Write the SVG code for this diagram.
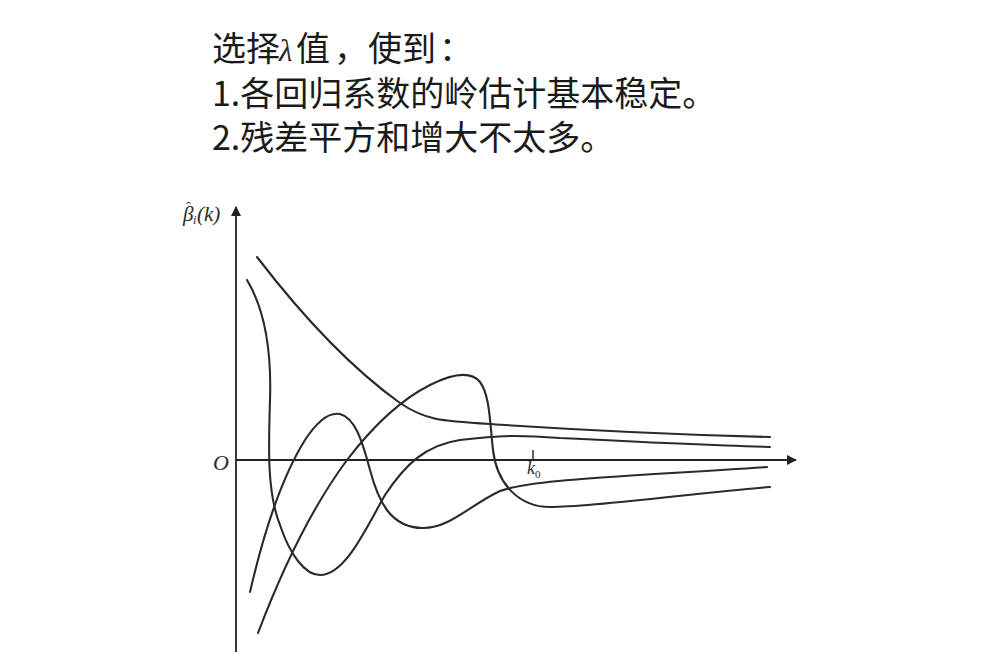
<svg xmlns="http://www.w3.org/2000/svg" width="994" height="664" viewBox="0 0 994 664">
<style>
.title{font-family:"Noto Sans CJK SC","Noto Sans",sans-serif;font-size:34px;fill:#1a1a1a}
.math{font-family:"Liberation Serif","DejaVu Serif",serif;font-style:italic;fill:#2a2a2a}
.axis{stroke:#222;stroke-width:1.8;fill:none}
.curve{stroke:#2a2a2a;stroke-width:2.1;fill:none;stroke-linecap:round;stroke-linejoin:round}
</style>
<defs>
<marker id="arr" viewBox="0 0 10 10" refX="9" refY="5" markerWidth="10" markerHeight="10" markerUnits="userSpaceOnUse" orient="auto">
<path d="M0,0 L10,5 L0,10 Z" fill="#222"/>
</marker>
</defs>
<rect width="994" height="664" fill="#ffffff"/>
<g id="title">
<text class="title" x="212" y="61">选择<tspan x="279" class="math" style="font-size:31px">λ</tspan><tspan x="296">值</tspan><tspan x="334">，</tspan><tspan x="368">使到</tspan><tspan x="439">：</tspan><tspan x="212" y="106">1.各回归系数的岭估计基本稳定。</tspan><tspan x="212" y="150">2.残差平方和增大不太多。</tspan></text>
</g>
<g id="axes">
<line class="axis" x1="236" y1="652" x2="236" y2="207" marker-end="url(#arr)"/>
<line class="axis" x1="236" y1="460" x2="796" y2="460" marker-end="url(#arr)"/>
<line class="axis" x1="533" y1="450" x2="533" y2="460" style="stroke-width:1.4"/>
</g>
<g id="labels">
<text class="math" x="221" y="470" text-anchor="middle" style="font-size:22px">O</text>
<text class="math" x="183" y="221" style="font-size:21px">β<tspan x="186" y="212" style="font-size:14px;font-style:normal">ˆ</tspan><tspan x="193" y="224" style="font-size:12px">i</tspan><tspan x="197" y="221">(k)</tspan></text>
<text class="math" x="527" y="474" style="font-size:18px">k<tspan dy="4" style="font-size:11px;font-style:normal">0</tspan></text>
</g>
<g id="connectors">
<path id="curveA" class="curve" d="M257,257 C290,300 340,360 400,403 C425,420 440,421 490,424 C550,428 650,434 770,437"/>
<path id="curveB" class="curve" d="M247,280 C262,305 272,340 270,400 C269,440 266,490 280,525 C290,555 305,575 320,575 C345,575 365,530 385,495 C405,465 425,445 460,440 C500,435 520,435 560,438 C640,442 700,445 770,447"/>
<path id="curveC" class="curve" d="M250,592 C262,540 280,480 305,440 C318,420 330,412 340,414 C355,418 362,440 370,470 C378,500 390,528 423,528 C450,528 470,505 500,491 C530,480 600,478 767,467"/>
<path id="curveD" class="curve" d="M258,633 C280,575 310,510 347,460 C370,430 400,400 430,385 C450,375 470,370 480,382 C490,395 490,425 493,450 C497,485 520,507 550,507 C600,507 700,492 770,487"/>
</g>
</svg>
